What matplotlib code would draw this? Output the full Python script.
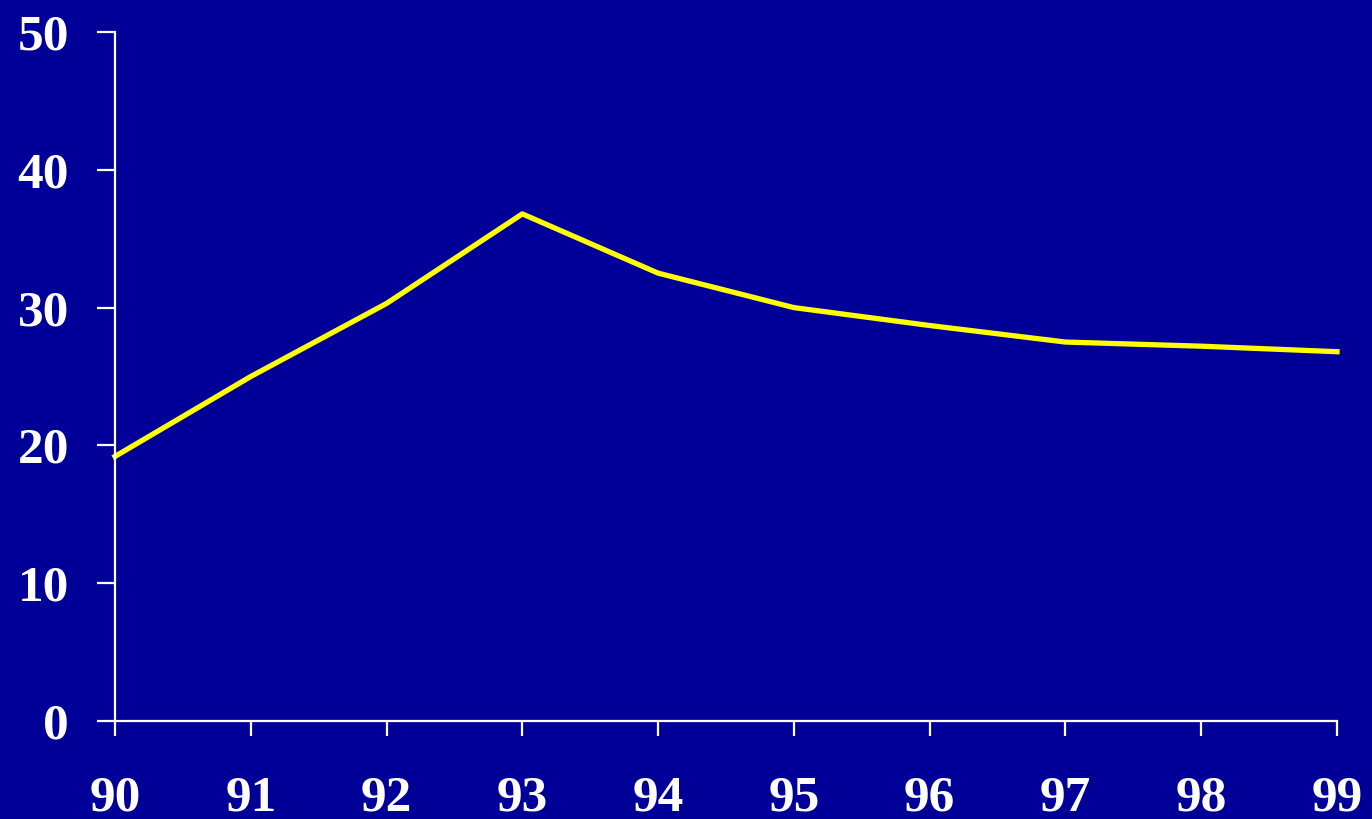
import matplotlib
matplotlib.use("Agg")
import matplotlib.pyplot as plt

years = [90, 91, 92, 93, 94, 95, 96, 97, 98, 99]
values = [19.2, 25.0, 30.3, 36.8, 32.5, 30.0, 28.7, 27.5, 27.2, 26.8]
xticklabels = [str(y) for y in years]
yticks = [0, 10, 20, 30, 40, 50]

BG = "#000099"
W, H, DPI = 1372, 819, 100
fig = plt.figure(figsize=(W / DPI, H / DPI), dpi=DPI, facecolor=BG)
ax = fig.add_axes([115 / W, 1 - 721 / H, (1337 - 115) / W, (721 - 32) / H])
ax.set_facecolor(BG)

ax.plot(years, values, color="#FFFF00", linewidth=3.8, solid_joinstyle="round", clip_on=False)

ax.set_xlim(90, 99)
ax.set_ylim(0, 50)
ax.set_xticks(years)
ax.set_xticklabels(xticklabels)
ax.set_yticks(yticks)

for s in ["top", "right"]:
    ax.spines[s].set_visible(False)
for s in ["left", "bottom"]:
    ax.spines[s].set_color("white")
    ax.spines[s].set_linewidth(1.6)

ax.tick_params(axis="y", colors="white", length=13, width=1.6, pad=20, direction="out")
ax.tick_params(axis="x", colors="white", length=11, width=1.6, pad=28, direction="out")
for lab in ax.get_xticklabels() + ax.get_yticklabels():
    lab.set_fontfamily(["Liberation Serif", "DejaVu Serif"])
    lab.set_fontweight("bold")
    lab.set_fontsize(37)
    lab.set_color("white")

fig.savefig("out.png", dpi=DPI, facecolor=BG)
